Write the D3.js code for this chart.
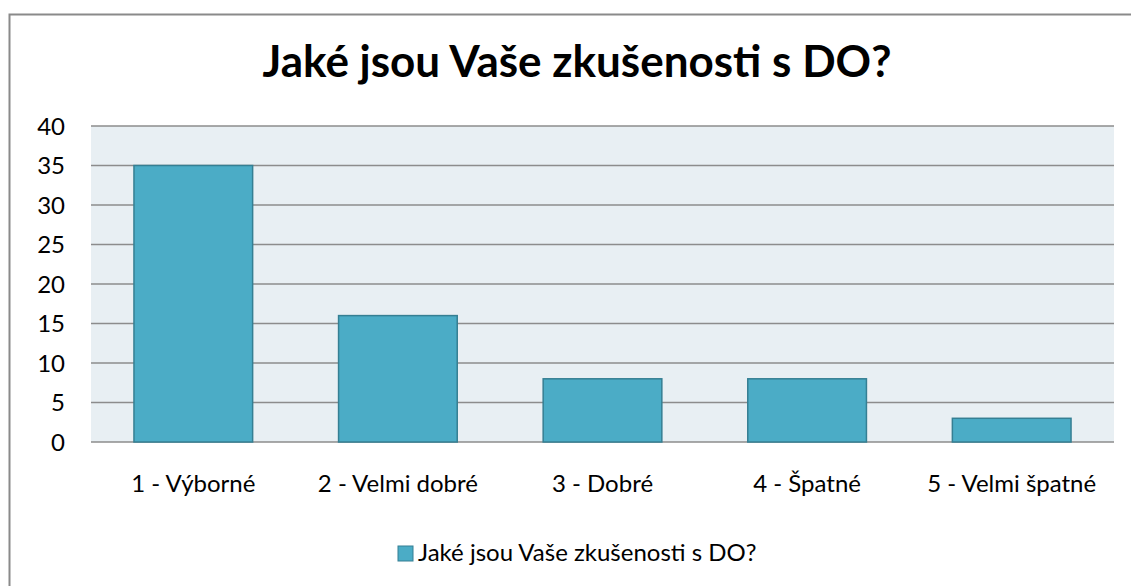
<!doctype html>
<html>
  <head>
    <meta charset="utf-8">
    <script src="https://cdn.jsdelivr.net/npm/d3@7/dist/d3.min.js"></script>
    <style>
    body { margin: 0; background: #fff; }
    text { font-family: Lato, "Open Sans", sans-serif; fill: #000; }
    .grid line { stroke: #8c8c8c; stroke-width: 1.5; }
    </style>
  </head>
  <body>
    <svg id="chart" width="1131" height="586"></svg>
    <script>
      var title = "Jaké jsou Vaše zkušenosti s DO?";
      var categories = ["1 - Výborné", "2 - Velmi dobré", "3 - Dobré", "4 - Špatné", "5 - Velmi špatné"];
      var values = [35, 16, 8, 8, 3];
      var yTicks = [0, 5, 10, 15, 20, 25, 30, 35, 40];

      var svg = d3.select("#chart");
      var plot = {left: 91, right: 1114, top: 126, bottom: 442};

      // outer chart border (only top and left edges visible)
      svg.append("path")
        .attr("d", "M9.5,1000 L9.5,14.5 L1200,14.5")
        .attr("fill", "none")
        .attr("stroke", "#8a8a8a")
        .attr("stroke-width", 2);

      var x = d3.scaleBand()
        .domain(categories)
        .range([plot.left, plot.right])
        .paddingInner(0.42)
        .paddingOuter(0.21);

      var y = d3.scaleLinear()
        .domain([0, 40])
        .range([plot.bottom, plot.top]);

      svg.append("rect")
        .attr("x", plot.left)
        .attr("y", plot.top)
        .attr("width", plot.right - plot.left)
        .attr("height", plot.bottom - plot.top)
        .attr("fill", "#e8eff3");

      svg.append("g")
        .attr("class", "grid")
        .selectAll("line")
        .data(yTicks)
        .enter()
        .append("line")
          .attr("x1", plot.left)
          .attr("x2", plot.right)
          .attr("y1", d => y(d))
          .attr("y2", d => y(d));

      svg.append("g")
        .selectAll("rect.bar")
        .data(values)
        .enter()
        .append("rect")
          .attr("class", "bar")
          .attr("x", (d, i) => x(categories[i]))
          .attr("y", d => y(d))
          .attr("width", x.bandwidth())
          .attr("height", d => y(0) - y(d))
          .attr("fill", "#4bacc6")
          .attr("stroke", "#357f93")
          .attr("stroke-width", 1.5);

      // y axis labels
      svg.append("g")
        .selectAll("text")
        .data(yTicks)
        .enter()
        .append("text")
          .attr("x", 65)
          .attr("y", d => y(d))
          .attr("dy", "0.36em")
          .attr("text-anchor", "end")
          .style("font-size", "24px")
          .text(d => d);

      // category labels
      svg.append("g")
        .selectAll("text")
        .data(categories)
        .enter()
        .append("text")
          .attr("x", d => x(d) + x.bandwidth() / 2)
          .attr("y", 492)
          .attr("text-anchor", "middle")
          .style("font-size", "24px")
          .text(d => d);

      svg.append("text")
        .attr("x", 577)
        .attr("y", 77)
        .attr("text-anchor", "middle")
        .style("font-size", "44px")
        .style("font-weight", "bold")
        .text(title);

      // legend
      var legend = svg.append("g").attr("transform", "translate(398,546)");
      legend.append("rect")
        .attr("width", 15)
        .attr("height", 15)
        .attr("fill", "#4bacc6")
        .attr("stroke", "#357f93")
        .attr("stroke-width", 1);
      legend.append("text")
        .attr("x", 20)
        .attr("y", 15)
        .style("font-size", "24px")
        .text(title);
    </script>
  </body>
</html>
